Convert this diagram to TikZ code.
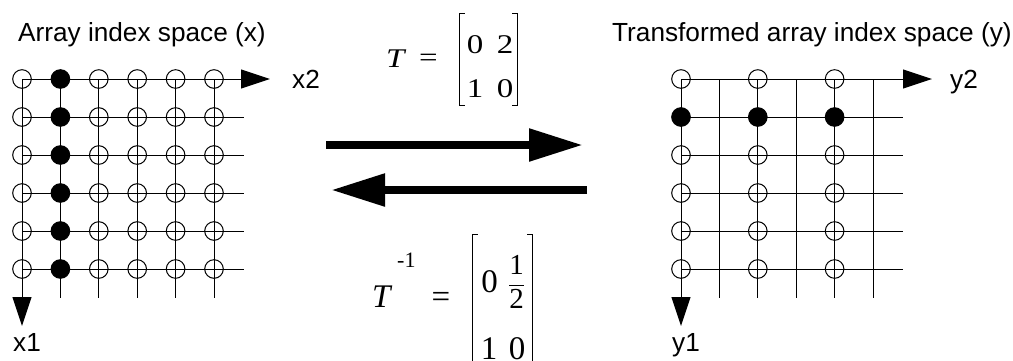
\documentclass[tikz,border=0pt]{standalone}
\usepackage{amsmath}
\usepackage{fontspec}
\setmainfont{Liberation Sans}
\newfontfamily\eqfont{Liberation Serif}
\newfontfamily\eqwide[FakeStretch=1.22]{Liberation Serif}
\usetikzlibrary{arrows.meta}

\tikzset{
  lbl/.style={font=\fontsize{26.2}{30}\selectfont, inner sep=0pt},
  mth/.style={font=\fontsize{27}{30}\selectfont\eqwide, inner sep=0pt, anchor=base},
  bigmth/.style={mth, font=\fontsize{33}{38}\selectfont\eqfont},
  pt/.style={circle, draw, line width=1pt, minimum size=18.6pt, inner sep=0pt},
  hit/.style={pt, fill=black},
  gridline/.style={line width=1pt},
  bracket/.style={line width=1.1pt},
  axis/.style={line width=1pt, -{Triangle[length=29pt,width=19pt]}},
  map/.style={line width=8.5pt, -{Triangle[length=54pt,width=31pt]}}
}

\begin{document}
\begin{tikzpicture}[x=1pt, y=-1pt]

\useasboundingbox (0,0) rectangle (1013,360);

% titles
\node[lbl, anchor=base west] (xtitle) at (18,41) {Array index space (x)};
\node[lbl, anchor=base west] (ytitle) at (612,41) {Transformed array index space (y)};

% index space x
\foreach \i in {0,...,5}
  \foreach \j in {0,...,5}
    \coordinate (x\i\j) at (22+38.4*\j, 79+38*\i);
\foreach \i in {1,...,5} \draw[gridline] (x\i0) -- ++(222,0);
\foreach \j in {2,...,5} \draw[gridline] (x0\j) -- ++(0,219);
\draw[line width=1.8pt] (x01) -- ++(0,219);
\coordinate (x2tip) at (270,79);
\coordinate (x1tip) at (22,326);
\draw[axis] (x00) -- (x2tip);
\draw[axis] (x00) -- (x1tip);
\foreach \i in {0,...,5} {
  \node[pt] (px\i0) at (x\i0) {};
  \node[hit] (px\i1) at (x\i1) {};
  \foreach \j in {2,...,5} \node[pt] (px\i\j) at (x\i\j) {};
}
\node[lbl, anchor=base west] (x2lbl) at (292,88) {x2};
\node[lbl, anchor=base west] (x1lbl) at (13,351) {x1};

% index space y
\foreach \i in {0,...,5}
  \foreach \j in {0,...,5}
    \coordinate (y\i\j) at (681+38.4*\j, 79+38*\i);
\foreach \i in {1,...,5} \draw[gridline] (y\i0) -- ++(222,0);
\foreach \j in {1,...,5} \draw[gridline] (y0\j) -- ++(0,219);
\coordinate (y2tip) at (932,79);
\coordinate (y1tip) at (681,326);
\draw[axis] (y00) -- (y2tip);
\draw[axis] (y00) -- (y1tip);
\foreach \j in {0,2,4} {
  \node[pt] (py0\j) at (y0\j) {};
  \node[hit] (py1\j) at (y1\j) {};
  \foreach \i in {2,...,5} \node[pt] (py\i\j) at (y\i\j) {};
}
\node[lbl, anchor=base west] (y2lbl) at (950,88) {y2};
\node[lbl, anchor=base west] (y1lbl) at (672,351) {y1};

% T
\node[mth, anchor=base west] (tfwd) at (386,67) {\itshape T};
\node[mth, anchor=center] (eqfwd) at (428.5,60) {=};
\node[mth] (f11) at (475,53) {0};
\node[mth] (f12) at (505,53) {2};
\node[mth] (f21) at (475,97) {1};
\node[mth] (f22) at (505,97) {0};
\node[minimum width=57pt, minimum height=91pt, inner sep=0pt] (fbox) at (488.5,59.5) {};
\draw[bracket] ([xshift=5pt]fbox.north west) -- (fbox.north west) -- (fbox.south west) -- ++(5,0);
\draw[bracket] ([xshift=-5pt]fbox.north east) -- (fbox.north east) -- (fbox.south east) -- ++(-5,0);

% T^-1
\node[bigmth, anchor=base west] (tinv) at (372,307) {\itshape T};
\node[font=\fontsize{22}{22}\selectfont\eqfont, inner sep=0pt, anchor=base west] (tinvexp) at (397,267) {-1};
\node[bigmth, anchor=center] (eqinv) at (441,300) {=};
\node[bigmth] (i11) at (489.5,292) {0};
\node[mth, font=\fontsize{29}{32}\selectfont\eqfont, anchor=center] (i12) at (516.5,282)
  {$\displaystyle\frac{\mbox{1}}{\mbox{2}}$};
\node[bigmth] (i21) at (489,359) {1};
\node[bigmth] (i22) at (517,359) {0};
\node[minimum width=59pt, minimum height=130pt, inner sep=0pt] (ibox) at (502.5,300) {};
\draw[bracket] ([xshift=5pt]ibox.north west) -- (ibox.north west) -- (ibox.south west) -- ++(5,0);
\draw[bracket] ([xshift=-5pt]ibox.north east) -- (ibox.north east) -- (ibox.south east) -- ++(-5,0);

% forward and backward mapping
\coordinate (fwdtail) at (326,145);
\coordinate (fwdtip) at (583,145);
\coordinate (bwdtail) at (587,190);
\coordinate (bwdtip) at (331,190);
\draw[map] (fwdtail) -- (fwdtip);
\draw[map] (bwdtail) -- (bwdtip);

\end{tikzpicture}
\end{document}
